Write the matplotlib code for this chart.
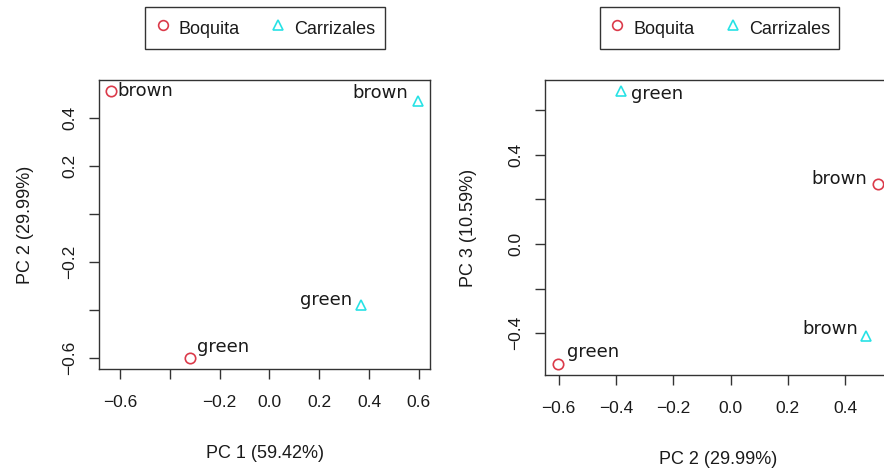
import matplotlib.pyplot as plt
from matplotlib.lines import Line2D

# PCA scores
sites = ['Boquita', 'Boquita', 'Carrizales', 'Carrizales']
colours = ['brown', 'green', 'brown', 'green']
pc1 = [-0.636, -0.318, 0.596, 0.368]
pc2 = [0.515, -0.603, 0.473, -0.381]
pc3 = [0.267, -0.538, -0.413, 0.685]

# axis ticks and the labels R kept (blank = dropped because of overlap)
left_xticks = [-0.6, -0.4, -0.2, 0.0, 0.2, 0.4, 0.6]
left_xlabels = ['\u22120.6', '', '\u22120.2', '0.0', '0.2', '0.4', '0.6']
left_yticks = [-0.6, -0.4, -0.2, 0.0, 0.2, 0.4]
left_ylabels = ['\u22120.6', '', '\u22120.2', '', '0.2', '0.4']
right_xticks = [-0.6, -0.4, -0.2, 0.0, 0.2, 0.4]
right_xlabels = ['\u22120.6', '\u22120.4', '\u22120.2', '0.0', '0.2', '0.4']
right_yticks = [-0.4, -0.2, 0.0, 0.2, 0.4, 0.6]
right_ylabels = ['\u22120.4', '', '0.0', '', '0.4', '']

site_style = {
    'Boquita': dict(marker='o', color='#DB3A4A'),
    'Carrizales': dict(marker='^', color='#28E2E5'),
}
FONT = 'Liberation Sans'
INK = '#1a1a1a'

# label placement per point (pixel offset, horizontal alignment)
left_offsets = [((6, -5), 'left'), ((7, 6), 'left'), ((-10, 3), 'right'), ((-9, 0), 'right')]
right_offsets = [((-11, 0), 'right'), ((9, 7), 'left'), ((-8, 2), 'right'), ((10, -8), 'left')]


def pca_panel(ax, xs, ys, offsets, xticks, xlabels, yticks, ylabels, xlab, ylab, ylab_x, xlab_y):
    for site in ['Boquita', 'Carrizales']:
        idx = [i for i, s in enumerate(sites) if s == site]
        st = site_style[site]
        ax.plot([xs[i] for i in idx], [ys[i] for i in idx], linestyle='none',
                marker=st['marker'], markersize=7.5, markerfacecolor='none',
                markeredgecolor=st['color'], markeredgewidth=1.2)
    for i, lab in enumerate(colours):
        (dx, dy), ha = offsets[i]
        ax.annotate(lab, (xs[i], ys[i]), xytext=(dx, dy), textcoords='offset pixels',
                    ha=ha, va='baseline', fontsize=13, family='DejaVu Sans', color=INK)
    ax.margins(x=0.04, y=0.04)
    ax.set_xticks(xticks)
    ax.set_xticklabels(xlabels, family=FONT, fontsize=12.5, color=INK)
    ax.set_yticks(yticks)
    ax.set_yticklabels(ylabels, family=FONT, fontsize=12.5, color=INK,
                       rotation=90, va='center')
    ax.tick_params(axis='both', direction='out', length=7.5, width=1.0, color='#333333')
    ax.tick_params(axis='x', pad=11)
    ax.tick_params(axis='y', pad=8)
    for sp in ax.spines.values():
        sp.set_linewidth(1.0)
        sp.set_color('#333333')
    ax.set_xlabel(xlab, family=FONT, fontsize=13, color=INK)
    ax.set_ylabel(ylab, family=FONT, fontsize=13, color=INK)
    ax.xaxis.set_label_coords(0.5, xlab_y)
    ax.yaxis.set_label_coords(ylab_x, 0.5)


def legend_for(fig, cx):
    handles = [Line2D([], [], linestyle='none', marker=site_style[s]['marker'],
                      markersize=7, markerfacecolor='none',
                      markeredgecolor=site_style[s]['color'], markeredgewidth=1.2)
               for s in ['Boquita', 'Carrizales']]
    leg = fig.legend(handles, ['Boquita', 'Carrizales'], loc='upper center',
                     bbox_to_anchor=(cx, 1 - 7 / 476), ncol=2, fancybox=False,
                     edgecolor='#333333', framealpha=1, borderpad=0.5,
                     handleheight=1.65, handlelength=0.9, handletextpad=0.45,
                     columnspacing=1.66, borderaxespad=0,
                     prop={'family': FONT, 'size': 13})
    leg.get_frame().set_linewidth(1.0)
    for t in leg.get_texts():
        t.set_color(INK)
    return leg


fig = plt.figure(figsize=(8.84, 4.76), dpi=100)

ax1 = fig.add_axes([99 / 884, 107 / 476, 331 / 884, 289 / 476])
pca_panel(ax1, pc1, pc2, left_offsets, left_xticks, left_xlabels, left_yticks, left_ylabels,
          'PC 1 (59.42%)', 'PC 2 (29.99%)', -0.196, -0.263)

ax2 = fig.add_axes([545 / 884, 101 / 476, 346 / 884, 295 / 476])
pca_panel(ax2, pc2, pc3, right_offsets, right_xticks, right_xlabels, right_yticks, right_ylabels,
          'PC 2 (29.99%)', 'PC 3 (10.59%)', -0.197, -0.258)

legend_for(fig, 265 / 884)
legend_for(fig, 719.5 / 884)

fig.savefig('out.png', dpi=100)
